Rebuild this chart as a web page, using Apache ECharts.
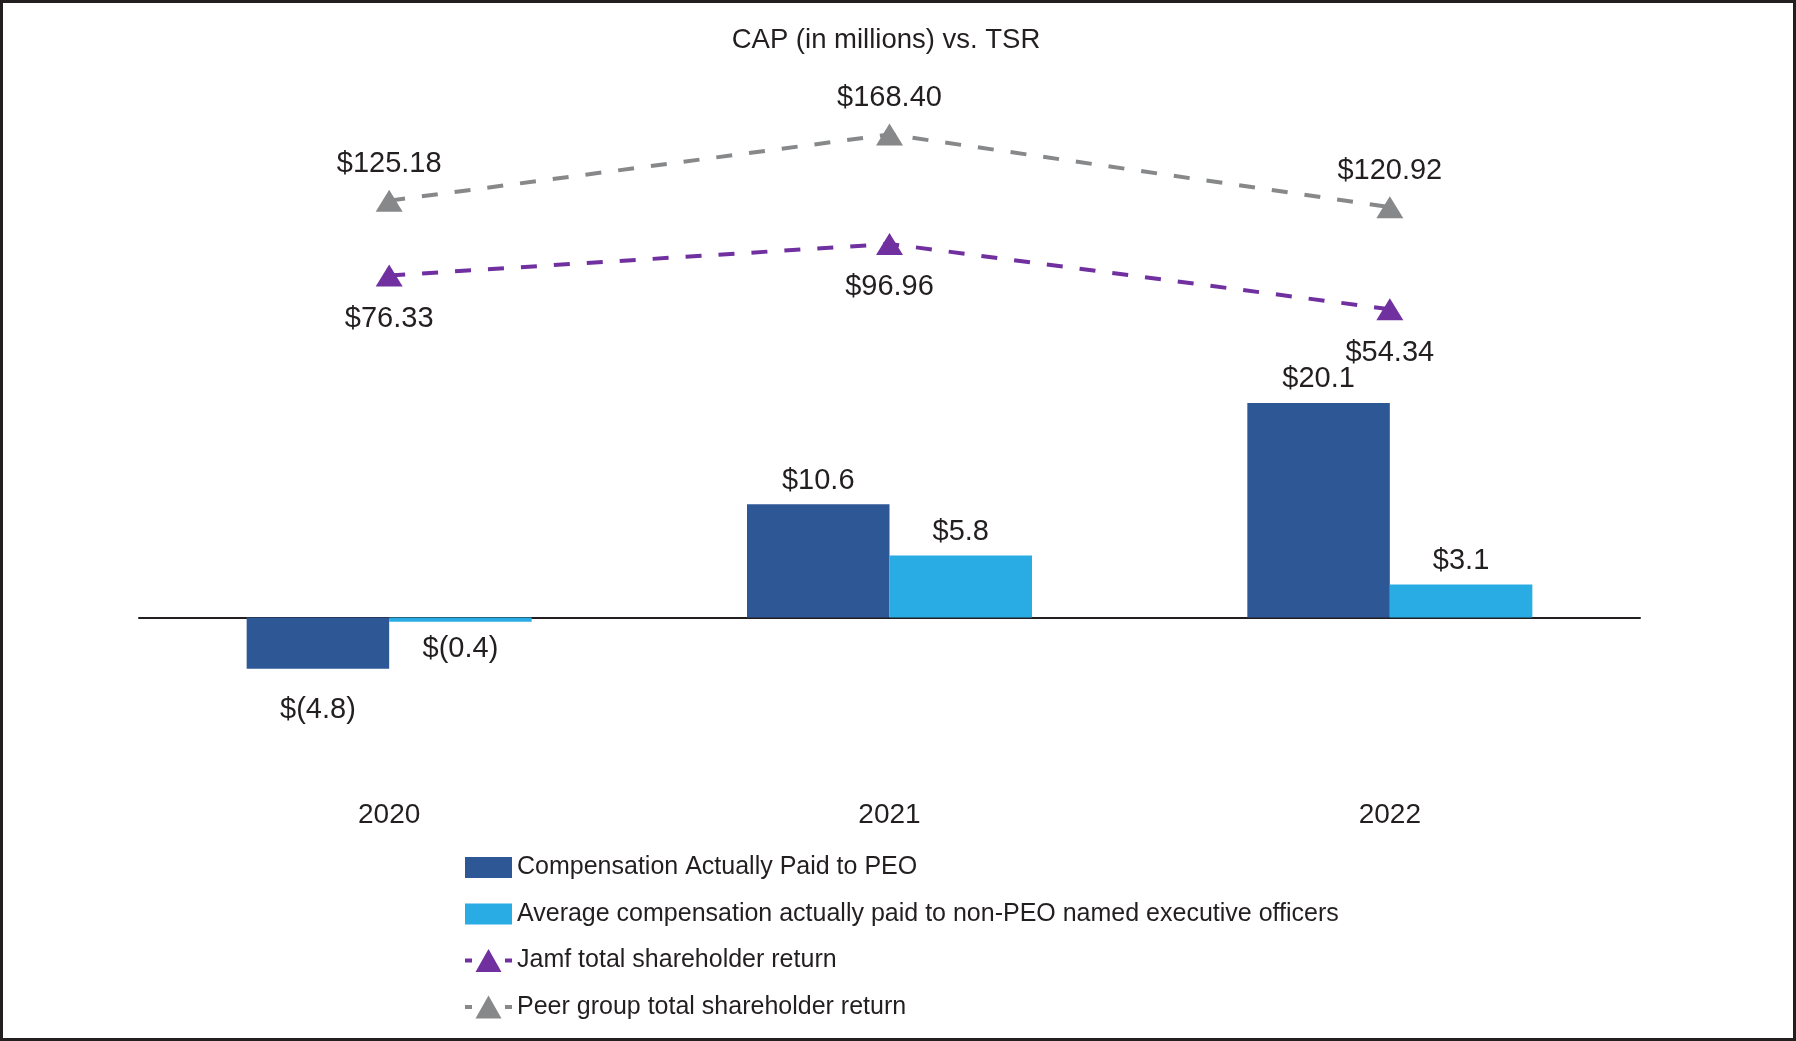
<!DOCTYPE html>
<html>
<head>
<meta charset="utf-8">
<script src="https://cdn.jsdelivr.net/npm/echarts@6/dist/echarts.min.js"></script>
<style>
html,body{margin:0;padding:0;background:#fff;}
#chart{width:1796px;height:1041px;}
</style>
</head>
<body>
<div id="chart"></div>
<script>
var years = ['2020', '2021', '2022'];
var peoCap = [-4.8, 10.6, 20.1];
var neoCap = [-0.4, 5.8, 3.1];
var jamfTsr = [76.33, 96.96, 54.34];
var peerTsr = [125.18, 168.40, 120.92];
var seriesNames = [
  'Compensation Actually Paid to PEO',
  'Average compensation actually paid to non-PEO named executive officers',
  'Jamf total shareholder return',
  'Peer group total shareholder return'
];
var titleText = 'CAP (in millions) vs. TSR';

var FONT = '"Liberation Sans", Arial, Helvetica, sans-serif';
var TXT = '#231f20';

function money1(v) {
  return v < 0 ? '$(' + Math.abs(v).toFixed(1) + ')' : '$' + v.toFixed(1);
}
function barData(arr, negDist) {
  return arr.map(function (v) {
    if (v < 0) return { value: v, label: { position: 'bottom', distance: negDist } };
    return v;
  });
}

var chart = echarts.init(document.getElementById('chart'), null, { renderer: 'canvas' });

chart.setOption({
  backgroundColor: '#ffffff',
  animation: false,
  title: {
    text: titleText,
    left: 886,
    textAlign: 'center',
    top: 26,
    padding: 0,
    textStyle: { color: TXT, fontSize: 27.5, fontWeight: 'normal', fontFamily: FONT }
  },
  graphic: [{
    type: 'rect',
    shape: { x: 1.5, y: 1.5, width: 1793, height: 1038 },
    style: { fill: 'none', stroke: TXT, lineWidth: 3 },
    silent: true, z: 100
  }],
  legend: {
    orient: 'vertical',
    left: 465,
    top: 855,
    padding: 0,
    itemWidth: 47,
    itemHeight: 23,
    itemGap: 21.5,
    itemStyle: { borderWidth: 0 },
    textStyle: { color: TXT, fontSize: 25, fontFamily: FONT },
    data: [
      { name: seriesNames[0], icon: 'path://M0,0h47v21h-47z' },
      { name: seriesNames[1], icon: 'path://M0,0h47v21h-47z' },
      { name: seriesNames[2], icon: 'path://M0,9.5h7v4h-7z M10.5,23 L23.5,0 L36.5,23z M40,9.5h7v4h-7z' },
      { name: seriesNames[3], icon: 'path://M0,9.5h7v4h-7z M10.5,23 L23.5,0 L36.5,23z M40,9.5h7v4h-7z' }
    ]
  },
  grid: { left: 139, right: 156, top: 104.9, bottom: 338, containLabel: false },
  xAxis: {
    type: 'category',
    data: years,
    axisLine: { show: true, onZero: true, onZeroAxisIndex: 0, lineStyle: { color: TXT, width: 2 } },
    axisTick: { show: false },
    axisLabel: { margin: 98, color: TXT, fontSize: 28, fontFamily: FONT },
    splitLine: { show: false }
  },
  yAxis: [
    { type: 'value', min: -8, max: 48, show: false, splitLine: { show: false } },
    { type: 'value', min: -202.7, max: 187.7, show: false, splitLine: { show: false } }
  ],
  series: [
    {
      name: seriesNames[0], type: 'bar', yAxisIndex: 0,
      data: barData(peoCap, 27),
      barWidth: 142.5, barGap: '0%',
      itemStyle: { color: '#2E5796' },
      label: { show: true, position: 'top', distance: 9, formatter: function (p) { return money1(p.value); }, color: TXT, fontSize: 29, fontFamily: FONT }
    },
    {
      name: seriesNames[1], type: 'bar', yAxisIndex: 0,
      data: barData(neoCap, 13),
      barWidth: 142.5, barGap: '0%',
      itemStyle: { color: '#29ACE3' },
      label: { show: true, position: 'top', distance: 9, formatter: function (p) { return money1(p.value); }, color: TXT, fontSize: 29, fontFamily: FONT }
    },
    {
      name: seriesNames[2], type: 'line', yAxisIndex: 1,
      data: jamfTsr, clip: false,
      symbol: 'triangle', symbolSize: [27, 22],
      itemStyle: { color: '#7030A0' },
      lineStyle: { color: '#7030A0', width: 4, type: [16, 17] },
      label: { show: true, position: 'bottom', distance: 18, formatter: function (p) { return '$' + p.value.toFixed(2); }, color: TXT, fontSize: 29, fontFamily: FONT },
      z: 3
    },
    {
      name: seriesNames[3], type: 'line', yAxisIndex: 1,
      data: peerTsr, clip: false,
      symbol: 'triangle', symbolSize: [27, 22],
      itemStyle: { color: '#87888A' },
      lineStyle: { color: '#87888A', width: 4, type: [16, 17] },
      label: { show: true, position: 'top', distance: 11, formatter: function (p) { return '$' + p.value.toFixed(2); }, color: TXT, fontSize: 29, fontFamily: FONT },
      z: 3
    }
  ]
});
</script>
</body>
</html>
